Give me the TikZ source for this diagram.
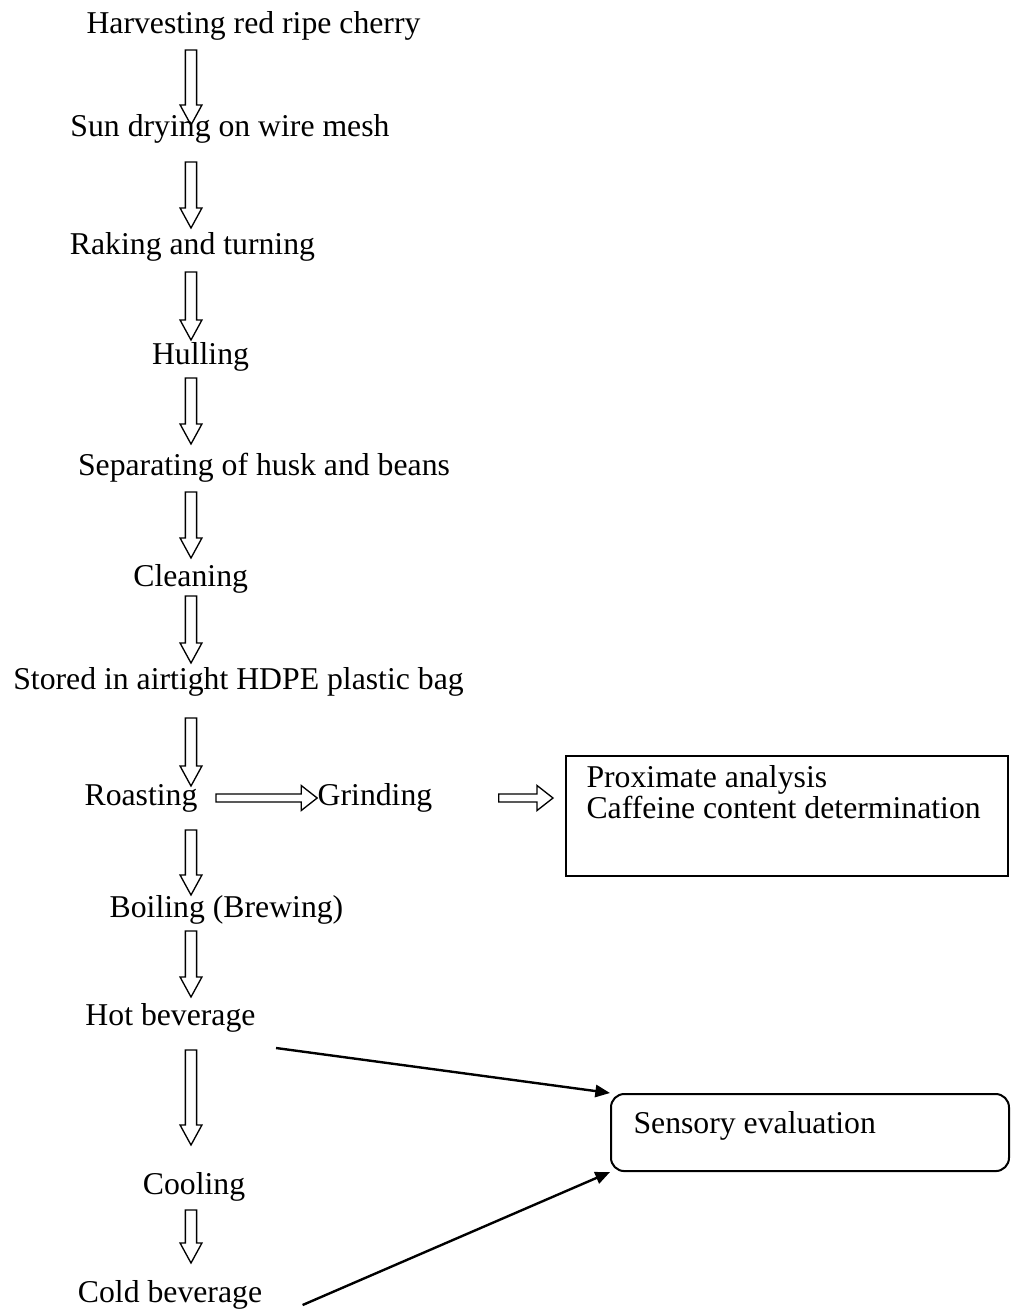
\documentclass[tikz,border=0pt]{standalone}
\usepackage{fontspec}
\setmainfont{Liberation Serif}
\usetikzlibrary{calc,arrows.meta}
\tikzset{
    stage/.style={font=\fontsize{11.9}{14}\selectfont, inner sep=0pt, anchor=base},
    box/.style={draw, line width=.75pt, inner sep=0pt, anchor=north west},
    link/.style={line width=.9pt, -{Triangle[length=5.5pt,width=4.6pt]}},
    hollow down/.style={line width=.5pt, to path={let \p1=(\tikztostart), \p2=(\tikztotarget) in
        (\x1-2.1pt,\y1) -- (\x1+2.1pt,\y1) -- (\x1+2.1pt,\y2+7.5pt) -- (\x1+4.1pt,\y2+7.5pt)
        -- (\x1,\y2) -- (\x1-4.1pt,\y2+7.5pt) -- (\x1-2.1pt,\y2+7.5pt) -- cycle}},
    hollow right/.style={line width=.5pt, to path={let \p1=(\tikztostart), \p2=(\tikztotarget) in
        (\x1,\y1-1.5pt) -- (\x2-6pt,\y1-1.5pt) -- (\x2-6pt,\y1-4.7pt) -- (\x2,\y1)
        -- (\x2-6pt,\y1+4.7pt) -- (\x2-6pt,\y1+1.5pt) -- (\x1,\y1+1.5pt) -- cycle}}
}
\begin{document}
\begin{tikzpicture}[x=.375pt, y=-.375pt]
    \useasboundingbox (0,0) rectangle (1016,1313);
    \coordinate (ax) at (191,0);
    % process steps
    \node[stage] (harvest) at (253.5,33) {Harvesting red ripe cherry};
    \node[stage] (sun) at (230,136) {Sun drying on wire mesh};
    \node[stage] (raking) at (192.5,254) {Raking and turning};
    \node[stage] (hulling) at (200.5,364) {Hulling};
    \node[stage] (separate) at (264,475) {Separating of husk and beans};
    \node[stage] (clean) at (190.7,586) {Cleaning};
    \node[stage] (store) at (238.5,689) {Stored in airtight HDPE plastic bag};
    \node[stage] (roast) at (141,805) {Roasting};
    \node[stage] (grind) at (375,805) {Grinding};
    \node[stage] (boil) at (226.5,917) {Boiling (Brewing)};
    \node[stage] (hot) at (170.5,1025) {Hot beverage};
    \node[stage] (cool) at (194,1194) {Cooling};
    \node[stage] (cold) at (170,1302) {Cold beverage};
    % boxes
    \node[box, minimum width=165.75pt, minimum height=45pt] (analysis) at (565,755) {};
    \node[stage, anchor=base west] (prox) at ($(analysis.north west)+(21,32)$) {Proximate analysis};
    \node[stage, anchor=base west] (caff) at ($(prox.base west)+(0,31.7)$) {Caffeine content determination};
    \node[box, rounded corners=5pt, minimum width=149.25pt, minimum height=28.9pt] (sensory) at (610,1093) {};
    \node[stage, anchor=base west] (senstext) at ($(sensory.north west)+(23,40)$) {Sensory evaluation};
    % hollow arrows
    \draw[hollow down] ($(harvest.base -| ax)+(0,17)$) to ($(sun.base -| ax)+(0,-11)$);
    \draw[hollow down] ($(sun.base -| ax)+(0,26)$) to ($(raking.base -| ax)+(0,-26)$);
    \draw[hollow down] ($(raking.base -| ax)+(0,18)$) to ($(hulling.base -| ax)+(0,-24)$);
    \draw[hollow down] ($(hulling.base -| ax)+(0,14)$) to ($(separate.base -| ax)+(0,-31)$);
    \draw[hollow down] ($(separate.base -| ax)+(0,17)$) to ($(clean.base -| ax)+(0,-28)$);
    \draw[hollow down] ($(clean.base -| ax)+(0,10)$) to ($(store.base -| ax)+(0,-26)$);
    \draw[hollow down] ($(store.base -| ax)+(0,29)$) to ($(roast.base -| ax)+(0,-19)$);
    \draw[hollow down] ($(roast.base -| ax)+(0,25)$) to ($(boil.base -| ax)+(0,-22)$);
    \draw[hollow down] ($(boil.base -| ax)+(0,14)$) to ($(hot.base -| ax)+(0,-28)$);
    \draw[hollow down] ($(hot.base -| ax)+(0,25)$) to ($(cool.base -| ax)+(0,-49)$);
    \draw[hollow down] ($(cool.base -| ax)+(0,16)$) to ($(cold.base -| ax)+(0,-39)$);
    \draw[hollow right] ($(roast.base east)+(18,-7)$) to ($(grind.base west)+(0,-7)$);
    \draw[hollow right] ($(grind.base east)+(66,-7)$) to ($(grind.base -| analysis.west)+(-12,-7)$);
    % tasting
    \draw[link] ($(hot.base east)+(20,23)$) -- (sensory.north west);
    \draw[link] ($(cold.base east)+(40,3)$) -- (sensory.south west);
\end{tikzpicture}
\end{document}
